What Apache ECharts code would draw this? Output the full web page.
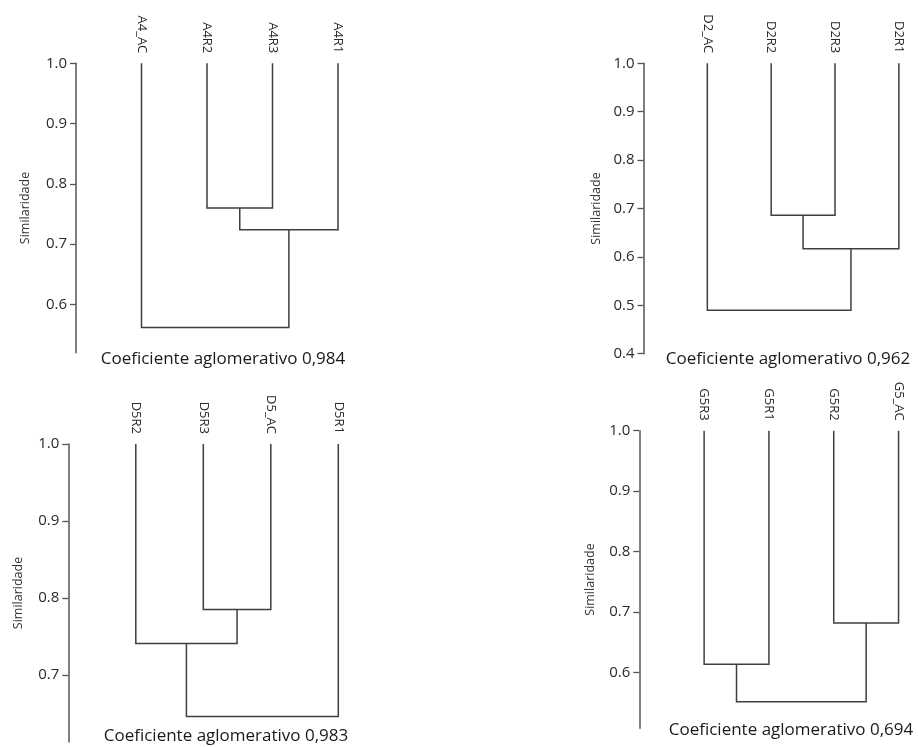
<!DOCTYPE html>
<html>
<head>
<meta charset="utf-8">
<script src="https://cdn.jsdelivr.net/npm/echarts@6/dist/echarts.min.js"></script>
<style>
  html, body { margin: 0; padding: 0; background: #fff; }
  #main { width: 918px; height: 747px; }
</style>
</head>
<body>
<div id="main"></div>
<script>
// leaves in drawing order, merges as [childA, childB, similarity]
// (child index >= 4 means an earlier merge, scipy style)
var leavesA4 = ['A4_AC', 'A4R2', 'A4R3', 'A4R1'];
var mergesA4 = [[1, 2, 0.760], [4, 3, 0.724], [0, 5, 0.562]];
var ticksA4 = [0.6, 0.7, 0.8, 0.9, 1.0];

var leavesD2 = ['D2_AC', 'D2R2', 'D2R3', 'D2R1'];
var mergesD2 = [[1, 2, 0.686], [4, 3, 0.617], [0, 5, 0.490]];
var ticksD2 = [0.4, 0.5, 0.6, 0.7, 0.8, 0.9, 1.0];

var leavesD5 = ['D5R2', 'D5R3', 'D5_AC', 'D5R1'];
var mergesD5 = [[1, 2, 0.785], [0, 4, 0.741], [5, 3, 0.646]];
var ticksD5 = [0.7, 0.8, 0.9, 1.0];

var leavesG5 = ['G5R3', 'G5R1', 'G5R2', 'G5_AC'];
var mergesG5 = [[0, 1, 0.614], [2, 3, 0.682], [4, 5, 0.552]];
var ticksG5 = [0.6, 0.7, 0.8, 0.9, 1.0];

var captions = ['Coeficiente aglomerativo 0,984', 'Coeficiente aglomerativo 0,962',
                'Coeficiente aglomerativo 0,983', 'Coeficiente aglomerativo 0,694'];

var FONT = '"Open Sans", "Noto Sans", sans-serif';
var LINE = '#3f3f3f';

// layout of each panel (pixels)
var panels = [
  { leaves: leavesA4, merges: mergesA4, ticks: ticksA4, left: 76,    top: 63.3,  step: 65.5, xmax: 3.5, ymin: 0.52,  px: 60.3, gap: 44, cap: [223, 359] },
  { leaves: leavesD2, merges: mergesD2, ticks: ticksD2, left: 643.5, top: 63.3,  step: 65.2, xmax: 3.3, ymin: 0.4,   px: 48.4, gap: 41, cap: [788, 359] },
  { leaves: leavesD5, merges: mergesD5, ticks: ticksD5, left: 68.3,  top: 444,   step: 67.5, xmax: 3.5, ymin: 0.613, px: 77,   gap: 43, cap: [226, 736] },
  { leaves: leavesG5, merges: mergesG5, ticks: ticksG5, left: 639.3, top: 430.7, step: 67.8, xmax: 3.3, ymin: 0.508, px: 60.5, gap: 42, cap: [791, 730] }
];

// turn merges into U shapes: [xLeft, hLeft, xRight, hRight, h]
function buildLinks(leaves, merges) {
  var nodes = leaves.map(function (n, i) { return { x: i, h: 1.0 }; });
  var links = [];
  merges.forEach(function (m) {
    var a = nodes[m[0]], b = nodes[m[1]];
    var l = a.x <= b.x ? a : b, r = a.x <= b.x ? b : a;
    links.push([l.x, l.h, r.x, r.h, m[2]]);
    nodes.push({ x: (a.x + b.x) / 2, h: m[2] });
  });
  return links;
}

var grids = [], xAxes = [], yAxes = [], series = [], graphics = [];

panels.forEach(function (p, k) {
  grids.push({
    left: p.left, top: p.top,
    width: (p.xmax + 1) * p.step,
    height: (1 - p.ymin) * p.px * 10
  });
  xAxes.push({
    type: 'value', gridIndex: k, position: 'top', min: -1, max: p.xmax,
    axisLine: { show: false, onZero: false }, axisTick: { show: false }, splitLine: { show: false },
    axisLabel: {
      customValues: p.leaves.map(function (n, i) { return i; }),
      formatter: function (v) { return p.leaves[Math.round(v)] || ''; },
      rotate: 90, margin: 10, fontSize: 13, color: '#2a2a2a', fontFamily: FONT
    }
  });
  yAxes.push({
    type: 'value', gridIndex: k, min: p.ymin, max: 1.0,
    name: 'Similaridade', nameLocation: 'middle', nameRotate: 90, nameGap: p.gap,
    nameTextStyle: { fontSize: 12.5, color: '#333', fontFamily: FONT },
    axisLine: { show: true, onZero: false, lineStyle: { color: '#555', width: 1.5 } },
    axisTick: { show: true, length: 6, customValues: p.ticks, lineStyle: { color: '#555', width: 1.3 } },
    splitLine: { show: false },
    axisLabel: {
      customValues: p.ticks, margin: 9, fontSize: 15, color: '#2a2a2a', fontFamily: FONT,
      formatter: function (v) { return v.toFixed(1); }
    }
  });
  series.push({
    type: 'custom', xAxisIndex: k, yAxisIndex: k,
    data: buildLinks(p.leaves, p.merges),
    encode: { x: [0, 2], y: [1, 3, 4] },
    silent: true,
    renderItem: function (params, api) {
      var xl = api.value(0), hl = api.value(1), xr = api.value(2), hr = api.value(3), h = api.value(4);
      var pts = [api.coord([xl, hl]), api.coord([xl, h]), api.coord([xr, h]), api.coord([xr, hr])];
      return {
        type: 'polyline',
        shape: { points: pts },
        style: { stroke: LINE, lineWidth: 1.5, fill: null }
      };
    }
  });
  graphics.push({
    type: 'text', x: p.cap[0], y: p.cap[1],
    style: {
      text: captions[k], fill: '#1a1a1a', font: '17px ' + FONT,
      textAlign: 'center', textVerticalAlign: 'middle'
    }
  });
});

var myChart = echarts.init(document.getElementById('main'));
var option = {
  animation: false,
  grid: grids,
  xAxis: xAxes,
  yAxis: yAxes,
  series: series,
  graphic: graphics
};
myChart.setOption(option);
</script>
</body>
</html>
